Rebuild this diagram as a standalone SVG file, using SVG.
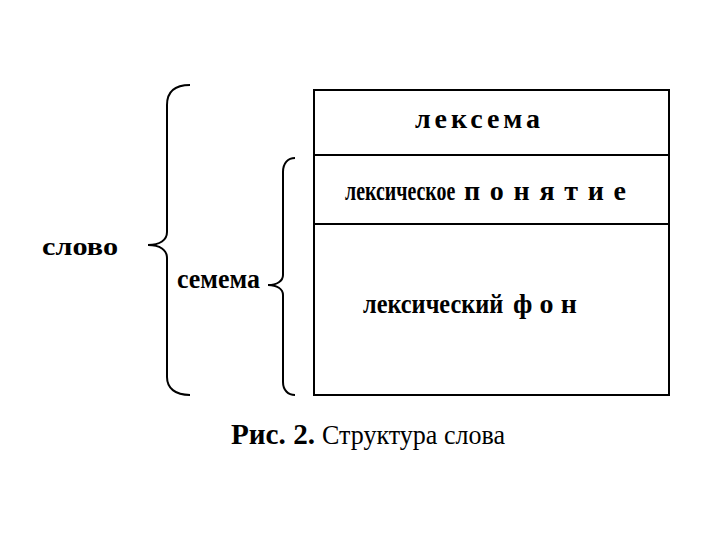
<svg xmlns="http://www.w3.org/2000/svg" width="720" height="540" viewBox="0 0 720 540">
<style>
.t{font-family:"Liberation Serif","Times New Roman",serif;font-weight:bold;fill:#000}
.r{font-family:"Liberation Serif","Times New Roman",serif;font-weight:normal;fill:#000}
.ln{stroke:#000;stroke-width:2;fill:none}
</style>
<rect width="720" height="540" fill="#fff"/>
<g id="box">
<rect x="314" y="90" width="355" height="305" class="ln"/>
</g>
<g id="connectors">
<line x1="314" y1="155" x2="669" y2="155" class="ln"/>
<line x1="314" y1="224" x2="669" y2="224" class="ln"/>
<path class="ln" d="M190,85 C175,85 167,92 167,105 L167,232 C167,240 160,245 148,245 C160,245 167,250 167,258 L167,377 C167,388 175,395 190,395"/>
<path class="ln" d="M295,158 C288,158 283,163 283,172 L283,275 C283,281 277,285 268,285 C277,285 283,289 283,295 L283,382 C283,390 288,395 295,395"/>
</g>
<g id="leksema">
<text class="t" x="415" y="128" font-size="28" textLength="125" lengthAdjust="spacing">лексема</text>
</g>
<g id="ponyatie">
<text class="t" transform="translate(345,200) scale(0.75,1)" x="0" y="0" font-size="28" textLength="147" lengthAdjust="spacingAndGlyphs">лексическое</text>
<text class="t" x="464" y="200" font-size="28" textLength="162" lengthAdjust="spacing">понятие</text>
</g>
<g id="fon">
<text class="t" transform="translate(363,313) scale(0.85,1)" x="0" y="0" font-size="28" textLength="165" lengthAdjust="spacingAndGlyphs">лексический</text>
<text class="t" x="513" y="313" font-size="28" textLength="64" lengthAdjust="spacing">фон</text>
</g>
<g id="slovo">
<text class="t" x="42" y="255" font-size="26" textLength="76" lengthAdjust="spacingAndGlyphs">слово</text>
</g>
<g id="semema">
<text class="t" x="177" y="288" font-size="27" textLength="83" lengthAdjust="spacingAndGlyphs">семема</text>
</g>
<g id="caption">
<text class="t" x="231" y="444" font-size="29" textLength="84" lengthAdjust="spacingAndGlyphs">Рис. 2.</text>
<text class="r" x="322" y="444" font-size="28" textLength="183" lengthAdjust="spacingAndGlyphs">Структура слова</text>
</g>
</svg>
